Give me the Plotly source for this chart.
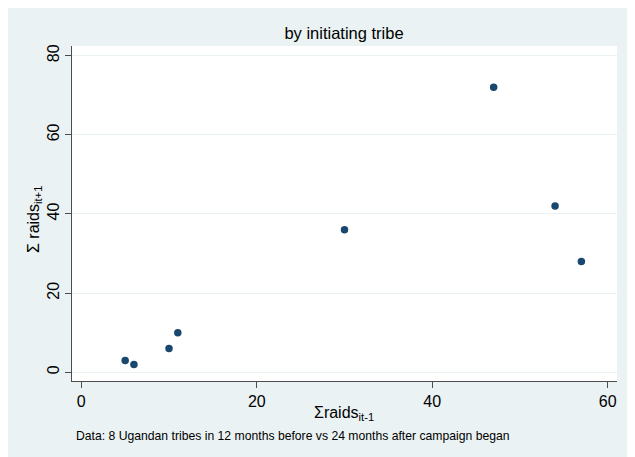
import plotly.graph_objects as go

# Data: raids in 12 months before (x) vs 24 months after (y) campaign began
raids_before = [5, 6, 10, 11, 30, 47, 54, 57]
raids_after = [3, 2, 6, 10, 36, 72, 42, 28]
x_ticks = [0, 20, 40, 60]
y_ticks = [0, 20, 40, 60, 80]

FONT = "Liberation Sans, Arial, sans-serif"
PANEL = "#EAF2F3"
AXIS = "#4d4d4d"

fig = go.Figure()
fig.add_trace(go.Scatter(
    x=raids_before, y=raids_after, mode="markers",
    marker=dict(color="#1A476F", size=7.5, line=dict(width=0)),
    showlegend=False, hoverinfo="x+y",
))

W, H = 635, 457
OFF = 8  # page body margin
# plot area in screen pixels: x 72..617, y 46..381
L = 72 - OFF
T = 46 - OFF
R = W - (617 - OFF)
B = H - (381 - OFF)
pw, ph = W - L - R, H - T - B

def px(xs):
    return (xs - OFF - L) / pw

def py(ys):
    return (H - B - (ys - OFF)) / ph

fig.update_layout(
    width=W, height=H,
    margin=dict(l=L, r=R, t=T, b=B, pad=0),
    paper_bgcolor=PANEL,
    plot_bgcolor="white",
    font=dict(family=FONT, size=16, color="black"),
    title=dict(text="by initiating tribe", x=px(344), xref="paper", xanchor="center",
               y=1 - (33 - OFF) / H, yref="container", yanchor="middle",
               font=dict(family=FONT, size=16.5, color="black")),
    xaxis=dict(range=[-1.06, 61.06], tickvals=x_ticks, ticks="outside", ticklen=6,
               tickcolor=AXIS, showline=True, linecolor=AXIS, linewidth=1,
               showgrid=False, zeroline=False, tickfont=dict(size=16, color="black")),
    yaxis=dict(range=[-2.2, 82.45], tickvals=y_ticks, ticks="outside", ticklen=6,
               tickcolor=AXIS, showline=True, linecolor=AXIS, linewidth=1,
               showgrid=True, gridcolor=PANEL, gridwidth=1, zeroline=False,
               tickangle=-90, tickfont=dict(size=16, color="black")),
    annotations=[
        dict(text="Σraids<sub>it-1</sub>", xref="paper", yref="paper",
             x=px(344), y=py(413), xanchor="center", yanchor="middle",
             showarrow=False, font=dict(family=FONT, size=16, color="black")),
        dict(text="Σ raids<sub>it+1</sub>", xref="paper", yref="paper",
             x=px(34), y=py(220), xanchor="center", yanchor="middle", textangle=-90,
             showarrow=False, font=dict(family=FONT, size=16, color="black")),
        dict(text="Data: 8 Ugandan tribes in 12 months before vs 24 months after campaign began",
             xref="paper", yref="paper", x=px(74), y=py(436), xanchor="left", yanchor="middle",
             showarrow=False, font=dict(family=FONT, size=12.2, color="black")),
    ],
)

fig.write_html("out.html")
